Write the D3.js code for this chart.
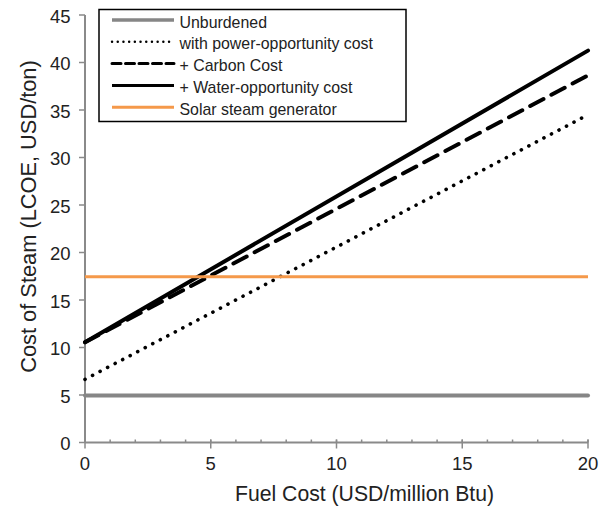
<!DOCTYPE html>
<html>
<head>
<meta charset="utf-8">
<script src="https://cdn.jsdelivr.net/npm/d3@7"></script>
<style>
  body { margin: 0; background: #fff; }
  text { font-family: "Liberation Sans", Arial, Helvetica, sans-serif; fill: #222; }
</style>
</head>
<body>
<svg id="chart" width="599" height="506"></svg>
<script>
// Fuel cost end points (USD/million Btu)
const fuelCost = [0, 20];
// Cost of steam (USD/ton) at each fuel-cost end point
const unburdened = [4.95, 4.95];
const powerOpportunity = [6.65, 34.5];
const carbonCost = [10.55, 38.65];
const waterOpportunity = [10.55, 41.25];
const solarSteam = [17.45, 17.45];

const xTicks = [0, 5, 10, 15, 20];
const yTicks = [0, 5, 10, 15, 20, 25, 30, 35, 40, 45];

const series = [
  { name: "Unburdened", values: unburdened, color: "#868686", width: 4, dash: null, cap: "round", legendWidth: 3.5 },
  { name: "with power-opportunity cost", values: powerOpportunity, color: "#000", width: 3.6, dash: "0.1 8.4", cap: "round", legendWidth: 2.4, legendDash: "0.1 5.6" },
  { name: "+ Carbon Cost", values: carbonCost, color: "#000", width: 4, dash: "15 9", cap: "round", legendWidth: 3, legendDash: "9 4.5" },
  { name: "+ Water-opportunity cost", values: waterOpportunity, color: "#000", width: 4, dash: null, cap: "round", legendWidth: 3 },
  { name: "Solar steam generator", values: solarSteam, color: "#f5994a", width: 3, dash: null, cap: "butt", legendWidth: 3 }
];

const svg = d3.select("#chart");
const x = d3.scaleLinear().domain([0, 20]).range([85, 588]);
const y = d3.scaleLinear().domain([0, 45]).range([442.5, 15]);
const axisColor = "#8a8a8a";

// x axis with minor ticks every 1 unit
const xAxisG = svg.append("g").attr("transform", `translate(0,${y(0)})`);
xAxisG.append("line").attr("x1", x(0)).attr("x2", x(20)).attr("stroke", axisColor).attr("stroke-width", 2);
xAxisG.selectAll(".minor").data(d3.range(0, 21)).join("line")
  .attr("x1", d => x(d)).attr("x2", d => x(d))
  .attr("y1", -3).attr("y2", 0).attr("stroke", axisColor).attr("stroke-width", 1.5);
xAxisG.selectAll(".major").data(xTicks).join("line")
  .attr("x1", d => x(d)).attr("x2", d => x(d))
  .attr("y1", -3).attr("y2", 6).attr("stroke", axisColor).attr("stroke-width", 1.5);
xAxisG.selectAll("text.tick").data(xTicks).join("text")
  .attr("x", d => x(d)).attr("y", 27).attr("text-anchor", "middle")
  .attr("font-size", 18.5).text(d => d);

// y axis
const yAxisG = svg.append("g").attr("transform", `translate(${x(0)},0)`);
yAxisG.append("line").attr("y1", y(0)).attr("y2", y(45)).attr("stroke", axisColor).attr("stroke-width", 2);
yAxisG.selectAll(".major").data(yTicks).join("line")
  .attr("y1", d => y(d)).attr("y2", d => y(d))
  .attr("x1", -6).attr("x2", 0).attr("stroke", axisColor).attr("stroke-width", 1.5);
yAxisG.selectAll("text.tick").data(yTicks).join("text")
  .attr("x", -14.5).attr("y", d => y(d) + 7.5).attr("text-anchor", "end")
  .attr("font-size", 18.5).text(d => d);

// axis titles
svg.append("text").attr("x", 364.5).attr("y", 501).attr("text-anchor", "middle")
  .attr("font-size", 21.2).text("Fuel Cost (USD/million Btu)");
svg.append("text").attr("transform", `translate(36,216.5) rotate(-90)`)
  .attr("text-anchor", "middle").attr("font-size", 21.8).text("Cost of Steam (LCOE, USD/ton)");

// series lines
const line = d3.line().x((d, i) => x(fuelCost[i])).y(d => y(d));
svg.append("g").selectAll("path").data(series).join("path")
  .attr("d", d => line(d.values))
  .attr("fill", "none")
  .attr("stroke", d => d.color)
  .attr("stroke-width", d => d.width)
  .attr("stroke-linecap", d => d.cap)
  .attr("stroke-dasharray", d => d.dash);

// legend
const lg = svg.append("g");
lg.append("rect").attr("x", 99).attr("y", 9.5).attr("width", 307).attr("height", 112)
  .attr("fill", "#fff").attr("stroke", "#000").attr("stroke-width", 1.5);
const rowY = i => 20 + i * 21.8;
lg.selectAll("line.sample").data(series).join("line")
  .attr("x1", 112).attr("x2", 174)
  .attr("y1", (d, i) => rowY(i)).attr("y2", (d, i) => rowY(i))
  .attr("stroke", d => d.color)
  .attr("stroke-width", d => d.legendWidth)
  .attr("stroke-linecap", d => d.legendDash ? "round" : "butt")
  .attr("stroke-dasharray", d => d.legendDash || null);
lg.selectAll("text.label").data(series).join("text")
  .attr("x", 179.5).attr("y", (d, i) => rowY(i) + 7.5)
  .attr("font-size", 15.9).text(d => d.name);
</script>
</body>
</html>
